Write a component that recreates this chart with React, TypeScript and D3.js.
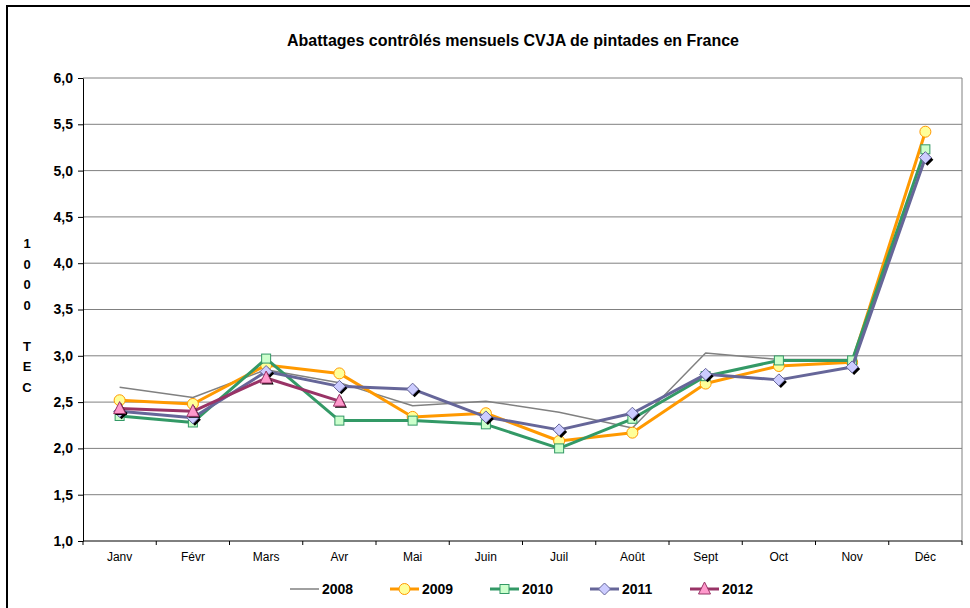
import React, { useEffect, useRef } from 'react';
import * as d3 from 'd3';

const months = ['Janv', 'Févr', 'Mars', 'Avr', 'Mai', 'Juin', 'Juil', 'Août', 'Sept', 'Oct', 'Nov', 'Déc'];
const yTicks = [1.0, 1.5, 2.0, 2.5, 3.0, 3.5, 4.0, 4.5, 5.0, 5.5, 6.0];

const v2008 = [2.66, 2.55, 2.85, 2.71, 2.46, 2.51, 2.39, 2.22, 3.03, 2.96, 2.96, 5.15];
const v2009 = [2.52, 2.48, 2.90, 2.81, 2.34, 2.38, 2.08, 2.17, 2.70, 2.89, 2.93, 5.42];
const v2010 = [2.35, 2.28, 2.97, 2.30, 2.30, 2.26, 2.00, 2.32, 2.78, 2.95, 2.95, 5.23];
const v2011 = [2.40, 2.33, 2.83, 2.67, 2.64, 2.34, 2.20, 2.38, 2.80, 2.74, 2.88, 5.14];
const v2012 = [2.43, 2.40, 2.76, 2.51];

const series = [
  { name: '2008', values: v2008, line: '#808080', fill: 'none', marker: 'none', width: 1.5 },
  { name: '2009', values: v2009, line: '#FF9900', fill: '#FFFF99', marker: 'circle', width: 3 },
  { name: '2010', values: v2010, line: '#339966', fill: '#CCFFCC', marker: 'square', width: 3 },
  { name: '2011', values: v2011, line: '#666699', fill: '#CCCCFF', marker: 'diamond', width: 3 },
  { name: '2012', values: v2012, line: '#993366', fill: '#FF99CC', marker: 'triangle', width: 3 },
];

export default function App() {
  const svgRef = useRef<SVGSVGElement>(null);

  useEffect(() => {
    const svg = d3.select(svgRef.current);
    svg.selectAll('*').remove();

    const width = 970;
    const height = 608;
    const left = 83, right = 962, top = 78, bottom = 541;
    const font = 'Arial, "Liberation Sans", sans-serif';

    svg.attr('width', width).attr('height', height);

    // cadre
    svg.append('rect')
      .attr('x', 7).attr('y', 6).attr('width', 980).attr('height', 620)
      .attr('fill', 'white').attr('stroke', 'black').attr('stroke-width', 2);

    svg.append('text')
      .attr('x', 513).attr('y', 46)
      .attr('text-anchor', 'middle')
      .style('font-family', font).style('font-weight', 'bold').style('font-size', '16px')
      .text('Abattages contrôlés mensuels CVJA de pintades en France');

    const x = d3.scaleBand().domain(months).range([left, right]);
    const y = d3.scaleLinear().domain([1, 6]).range([bottom, top]);

    // grille
    svg.append('g').selectAll('line')
      .data(yTicks.slice(1))
      .enter().append('line')
      .attr('x1', left).attr('x2', right)
      .attr('y1', d => y(d)).attr('y2', d => y(d))
      .attr('stroke', '#808080').attr('stroke-width', 1);

    svg.append('line')
      .attr('x1', right).attr('x2', right).attr('y1', top).attr('y2', bottom)
      .attr('stroke', '#808080');

    // axe Y
    const yAxis = svg.append('g')
      .attr('transform', `translate(${left},0)`)
      .call(d3.axisLeft(y).tickValues(yTicks).tickSize(5).tickSizeOuter(0)
        .tickFormat(d => d3.format('.1f')(d as number).replace('.', ',')));
    yAxis.select('.domain').attr('stroke', 'black');
    yAxis.selectAll('text')
      .style('font-family', font).style('font-weight', 'bold').style('font-size', '14px')
      .attr('fill', 'black').attr('x', -10);

    // axe X
    svg.append('line')
      .attr('x1', left).attr('x2', right).attr('y1', bottom).attr('y2', bottom)
      .attr('stroke', 'black');
    svg.append('g').selectAll('line')
      .data(d3.range(months.length + 1))
      .enter().append('line')
      .attr('x1', i => left + i * x.step()).attr('x2', i => left + i * x.step())
      .attr('y1', bottom).attr('y2', bottom + 4)
      .attr('stroke', 'black');
    svg.append('g').selectAll('text')
      .data(months)
      .enter().append('text')
      .attr('x', d => (x(d) as number) + x.bandwidth() / 2)
      .attr('y', 561)
      .attr('text-anchor', 'middle')
      .style('font-family', font).style('font-size', '12px')
      .text(d => d);

    // titre axe Y vertical
    const yLabel = ['1', '0', '0', '0', '', 'T', 'E', 'C'];
    svg.append('g').selectAll('text')
      .data(yLabel)
      .enter().append('text')
      .attr('x', 27).attr('y', (d, i) => 248 + i * 20.5)
      .attr('text-anchor', 'middle')
      .style('font-family', font).style('font-weight', 'bold').style('font-size', '13px')
      .text(d => d);

    const drawMarker = (g: any, type: string, cx: number, cy: number, fill: string, stroke: string, shadow = true) => {
      if (type === 'circle') {
        g.append('circle').attr('cx', cx).attr('cy', cy).attr('r', 5.5)
          .attr('fill', fill).attr('stroke', stroke).attr('stroke-width', 1);
      } else if (type === 'square') {
        g.append('rect').attr('x', cx - 4.5).attr('y', cy - 4.5).attr('width', 9).attr('height', 9)
          .attr('fill', fill).attr('stroke', stroke).attr('stroke-width', 1);
      } else if (type === 'diamond') {
        const p = `M${cx},${cy - 6}L${cx + 6},${cy}L${cx},${cy + 6}L${cx - 6},${cy}Z`;
        if (shadow) g.append('path').attr('d', p).attr('transform', 'translate(2,2)').attr('fill', 'black');
        g.append('path').attr('d', p).attr('fill', fill).attr('stroke', stroke).attr('stroke-width', 1);
      } else if (type === 'triangle') {
        const p = `M${cx},${cy - 7}L${cx + 6},${cy + 5}L${cx - 6},${cy + 5}Z`;
        if (shadow) g.append('path').attr('d', p).attr('transform', 'translate(1.5,1.5)').attr('fill', 'black');
        g.append('path').attr('d', p).attr('fill', fill).attr('stroke', stroke).attr('stroke-width', 1);
      }
    };

    const line = d3.line<number>()
      .x((d, i) => (x(months[i]) as number) + x.bandwidth() / 2)
      .y(d => y(d));

    series.forEach(s => {
      const g = svg.append('g');
      g.append('path')
        .datum(s.values)
        .attr('d', line)
        .attr('fill', 'none')
        .attr('stroke', s.line)
        .attr('stroke-width', s.width)
        .attr('stroke-linejoin', 'round');
      s.values.forEach((v, i) => {
        drawMarker(g, s.marker, (x(months[i]) as number) + x.bandwidth() / 2, y(v), s.fill, s.line);
      });
    });

    // légende
    const legend = svg.append('g');
    series.forEach((s, i) => {
      const lx = 290 + i * 100;
      const ly = 589;
      legend.append('line')
        .attr('x1', lx).attr('x2', lx + 29).attr('y1', ly).attr('y2', ly)
        .attr('stroke', s.line).attr('stroke-width', s.width);
      if (s.marker !== 'none') {
        drawMarker(legend.append('g'), s.marker, lx + 14.5, ly, s.fill, s.line, false);
      }
      legend.append('text')
        .attr('x', lx + 32).attr('y', ly + 5)
        .style('font-family', font).style('font-weight', 'bold').style('font-size', '14px')
        .text(s.name);
    });
  }, []);

  return (
    <div style={{ position: 'absolute', left: 0, top: 0 }}>
      <svg ref={svgRef} style={{ display: 'block' }}></svg>
    </div>
  );
}
